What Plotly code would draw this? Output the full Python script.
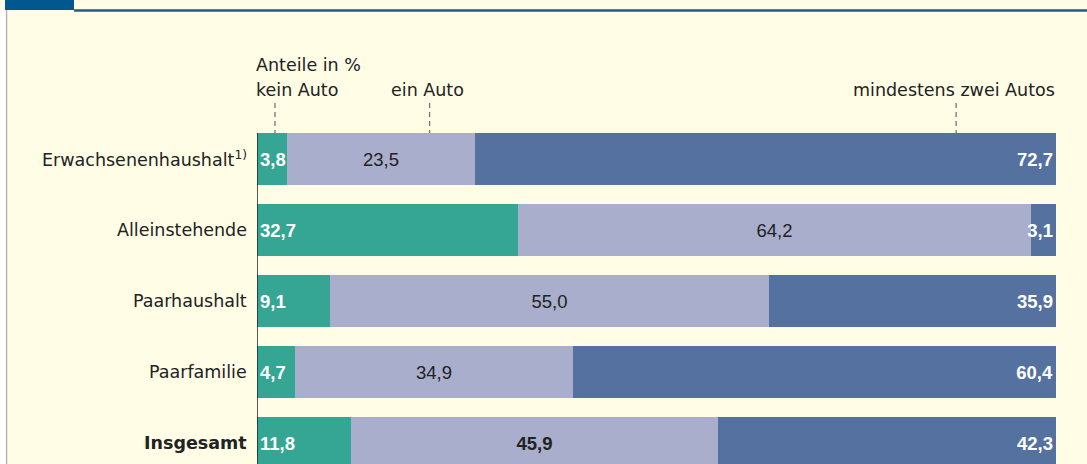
import plotly.graph_objects as go

categories = ["Erwachsenenhaushalt<sup>1)</sup>", "Alleinstehende", "Paarhaushalt", "Paarfamilie", "<b>Insgesamt</b>"]
kein_auto = [3.8, 32.7, 9.1, 4.7, 11.8]
ein_auto = [23.5, 64.2, 55.0, 34.9, 45.9]
zwei_autos = [72.7, 3.1, 35.9, 60.4, 42.3]
series_names = ["kein Auto", "ein Auto", "mindestens zwei Autos"]

BG = "#FFFDE6"
TEAL = "#35A594"
LAV = "#A8AECB"
BLUE = "#55719F"
FONT = "DejaVu Sans"
NUMFONT = "Liberation Sans"
FS = 17.5
NFS = 18.5
TXT = "#222222"

ypos = list(range(len(categories)))

def fmt(v, bold=False):
    s = f"{v:.1f}".replace(".", ",")
    return f"<b>{s}</b>" if bold else s

fig = go.Figure()
fig.add_trace(go.Bar(
    y=ypos, x=kein_auto, orientation="h", name=series_names[0],
    marker=dict(color=TEAL, line=dict(width=0)), width=0.732,
    text=[fmt(v, True) for v in kein_auto], textposition="inside",
    insidetextanchor="start", textangle=0, constraintext="none",
    textfont=dict(color="white", size=NFS, family=NUMFONT),
))
fig.add_trace(go.Bar(
    y=ypos, x=ein_auto, orientation="h", name=series_names[1],
    marker=dict(color=LAV, line=dict(width=0)), width=0.732,
    text=[fmt(v, i == 4) for i, v in enumerate(ein_auto)], textposition="inside",
    insidetextanchor="middle", textangle=0, constraintext="none",
    textfont=dict(color=TXT, size=NFS, family=NUMFONT),
))
fig.add_trace(go.Bar(
    y=ypos, x=zwei_autos, orientation="h", name=series_names[2],
    marker=dict(color=BLUE, line=dict(width=0)), width=0.732,
    text=[fmt(v, True) for v in zwei_autos], textposition="inside",
    insidetextanchor="end", textangle=0, constraintext="none",
    textfont=dict(color="white", size=NFS, family=NUMFONT),
))

annotations = []
for i, c in enumerate(categories):
    annotations.append(dict(x=0, y=i, xref="x", yref="y", text=c, showarrow=False,
                            xanchor="right", yanchor="middle", xshift=-8,
                            font=dict(size=FS, family=FONT, color=TXT)))
annotations += [
    dict(x=0, y=-1.32, xref="x", yref="y", text="Anteile in %", showarrow=False,
         xanchor="left", yanchor="middle", xshift=-3, font=dict(size=FS, family=FONT, color=TXT)),
    dict(x=0, y=-0.97, xref="x", yref="y", text="kein Auto", showarrow=False,
         xanchor="left", yanchor="middle", xshift=-3, font=dict(size=FS, family=FONT, color=TXT)),
    dict(x=21.3, y=-0.97, xref="x", yref="y", text="ein Auto", showarrow=False,
         xanchor="center", yanchor="middle", font=dict(size=FS, family=FONT, color=TXT)),
    dict(x=100, y=-0.97, xref="x", yref="y", text="mindestens zwei Autos", showarrow=False,
         xanchor="right", yanchor="middle", xshift=1, font=dict(size=FS, family=FONT, color=TXT)),
]

shapes = []
for xv in [2.25, 21.6, 87.5]:
    shapes.append(dict(type="line", xref="x", yref="y", x0=xv, x1=xv, y0=-0.79, y1=-0.366,
                       line=dict(color="#777777", width=1.3, dash="5px,4px")))
# baseline
shapes.append(dict(type="line", xref="x", yref="paper", x0=0, x1=0, y0=0, y1=(464 - 133) / 464,
                   line=dict(color="#222222", width=1.5), layer="above"))
# frame decorations
shapes.append(dict(type="rect", xref="paper", yref="paper", x0=-252 / 799, x1=-183 / 799,
                   y0=1 - 10 / 464, y1=1, fillcolor="#00588E", line=dict(width=0), layer="above"))
shapes.append(dict(type="line", xref="paper", yref="paper", x0=-183 / 799, x1=1 + 31 / 799,
                   y0=1 - 10.5 / 464, y1=1 - 10.5 / 464, line=dict(color="#1D5C8C", width=2.5)))
shapes.append(dict(type="line", xref="paper", yref="paper", x0=-250.5 / 799, x1=-250.5 / 799,
                   y0=0, y1=1 - 10 / 464, line=dict(color="#B0B0B0", width=1.5)))
shapes.append(dict(type="rect", xref="paper", yref="paper", x0=-257 / 799, x1=-251.3 / 799,
                   y0=0, y1=1 - 10 / 464, fillcolor="#FFFFFF", line=dict(width=0)))

fig.update_layout(
    width=1087, height=464,
    margin=dict(l=257, r=31, t=0, b=0),
    barmode="stack", bargap=0,
    paper_bgcolor=BG, plot_bgcolor=BG,
    showlegend=False,
    annotations=annotations, shapes=shapes,
    xaxis=dict(range=[0, 100], visible=False, fixedrange=True),
    yaxis=dict(range=[(464 - 159) / 71, -159 / 71], visible=False, fixedrange=True),
    uniformtext=dict(mode=False),
    font=dict(family=FONT, size=FS),
)

fig.write_html("out.html", config=dict(displayModeBar=False),
               post_script="document.body.style.margin='0';document.body.style.overflow='hidden';")
